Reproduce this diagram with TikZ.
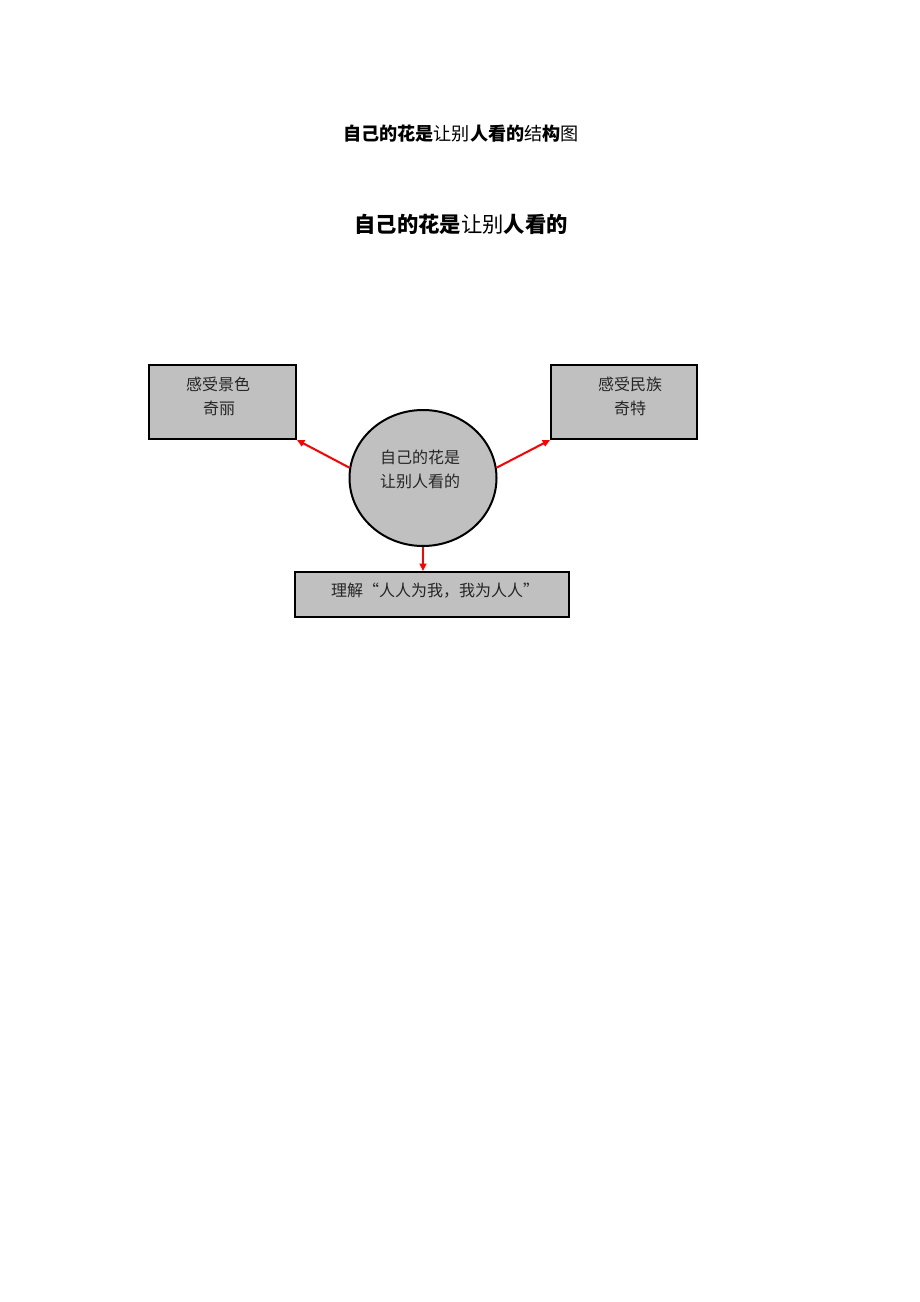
\documentclass[tikz,border=0pt]{standalone}
\usepackage{fontspec}
\newfontfamily\cjk{Noto Sans CJK SC}
\newfontfamily\cjkb{Noto Sans CJK SC}[BoldFont={Noto Sans CJK SC Bold}]
\usetikzlibrary{shapes.geometric,arrows.meta}
\definecolor{boxgray}{HTML}{C0C0C0}
\tikzset{
  gbox/.style={draw=black,line width=1.5pt,fill=boxgray,inner sep=0pt},
  lbl/.style={font=\cjk\fontsize{12}{14}\selectfont,text=black!85,inner sep=0pt},
  arr/.style={draw=red,line width=1.5pt,-{Triangle[length=5.5pt,width=5pt]}},
}
\begin{document}
\begin{tikzpicture}[x=0.75pt,y=-0.75pt]
\useasboundingbox (0,0) rectangle (920,1302);
% titles
\node[inner sep=0pt] (t1) at (461,134) {\cjk\fontsize{13.6}{16}\selectfont\bfseries 自己的花是\mdseries 让别\bfseries 人看的\mdseries 结\bfseries 构\mdseries 图};
\node[inner sep=0pt] (t2) at (461,224) {\cjk\fontsize{16}{19}\selectfont\bfseries 自己的花是\mdseries 让别\bfseries 人看的};
% boxes
\node[gbox,minimum width=110.25pt,minimum height=55.5pt] (lb) at (222.5,402) {};
\node[gbox,minimum width=109.5pt,minimum height=55.5pt] (rb) at (624,402) {};
\node[gbox,minimum width=205.5pt,minimum height=33.75pt] (bb) at (432,594.5) {};
\node[gbox,ellipse,minimum width=110.25pt,minimum height=102pt] (c) at (423,478) {};
% labels
\node[lbl] (lb1) at (218,384) {感受景色};
\node[lbl] (lb2) at (219,408) {奇丽};
\node[lbl] (rb1) at (630,384) {感受民族};
\node[lbl] (rb2) at (630,408) {奇特};
\node[lbl] (c1) at (420,457) {自己的花是};
\node[lbl] (c2) at (420,481) {让别人看的};
\node[lbl] (bb1) at (435,591) {理解“人人为我，我为人人”};
% arrows
\draw[arr] (c.172) -- (lb.south east);
\draw[arr] (c.8) -- (rb.south west);
\draw[arr] (c.south) -- (c.south |- bb.north);
\end{tikzpicture}
\end{document}
